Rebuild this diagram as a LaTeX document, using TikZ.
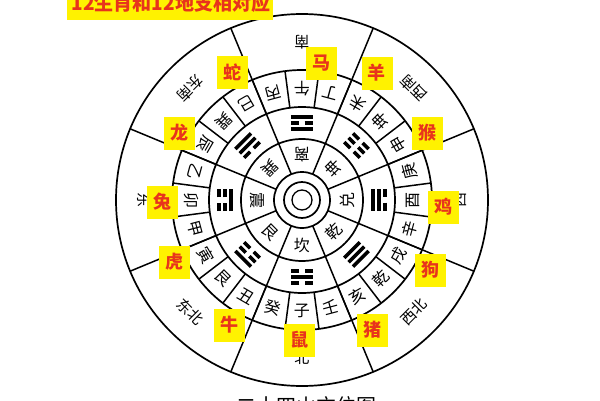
\documentclass[tikz,border=0pt]{standalone}
\usepackage{fontspec}
\newfontfamily\cjk{Noto Sans CJK SC}
\definecolor{zyellow}{HTML}{FFF200}
\definecolor{zred}{HTML}{E8341C}
\tikzset{
  ring/.style={line width=1.7pt},
  spoke/.style={line width=1.5pt},
  mtn/.style={font=\cjk\fontsize{16}{16}\selectfont, inner sep=0pt},
  gua/.style={font=\cjk\fontsize{16}{16}\selectfont, inner sep=0pt},
  dirlabel/.style={font=\cjk\fontsize{15}{15}\selectfont, inner sep=0pt},
  zodiac/.style={fill=zyellow, text=zred, font=\cjk\bfseries\fontsize{18}{18}\selectfont, minimum width=31pt, minimum height=33pt, inner sep=0pt},
  bar/.style={line width=3.6pt, line cap=butt},
}
\newcommand\yaoline[2]{\ifnum#1=1 \draw[bar] (-11,#2) -- (11,#2);\else \draw[bar] (-11,#2) -- (-2.6,#2); \draw[bar] (2.6,#2) -- (11,#2);\fi}
\begin{document}
\begin{tikzpicture}[x=1pt,y=1pt]
\useasboundingbox (-302,-200) rectangle (298,200);
\clip (-302,-200) rectangle (298,200);
\fill[white] (-302,-200) rectangle (298,200);
% rings
\foreach \r in {186,130,93,61,28,18} \draw[ring] (0,0) circle[radius=\r];
\draw[line width=1.3pt] (0,0) circle[radius=10];
% spokes
\foreach \a in {22.5,67.5,...,337.5} \draw[spoke] (\a:28) -- (\a:186);
\foreach \k in {0,...,23} \draw[spoke] ({7.5+15*\k}:93) -- ({7.5+15*\k}:130);
% 24 mountains
\foreach \ch [count=\i from 0] in {午,丁,未,坤,申,庚,酉,辛,戌,乾,亥,壬,子,癸,丑,艮,寅,甲,卯,乙,辰,巽,巳,丙} {
  \pgfmathsetmacro\th{90-15*\i}
  \node[mtn, rotate=\th+90] (m\i) at (\th:111) {\ch};
}
% trigram names
\foreach \ch [count=\i from 0] in {离,坤,兑,乾,坎,艮,震,巽} {
  \pgfmathsetmacro\th{90-45*\i}
  \node[gua, rotate=\th+90] (g\i) at (\th:45) {\ch};
}
% trigram symbols (bottom/middle/top; top outward)
\foreach \ya/\yb/\yc [count=\i from 0] in {1/0/1,0/0/0,1/1/0,1/1/1,0/1/0,0/0/1,1/0/0,0/1/1} {
  \pgfmathsetmacro\th{90-45*\i}
  \begin{scope}[shift={(\th:77)}, rotate=\th-90]
    \yaoline{\ya}{-6.2}
    \yaoline{\yb}{0}
    \yaoline{\yc}{6.2}
  \end{scope}
}
% directions
\foreach \d [count=\i from 0] in {南,西南,西,西北,北,东北,东,东南} {
  \pgfmathsetmacro\th{90-45*\i}
  \node[dirlabel, rotate=\th+90] (d\i) at (\th:158) {\d};
}
% zodiac boxes
\node[zodiac] (z1) at (20,137) {马};
\node[zodiac] (z2) at (75,127) {羊};
\node[zodiac] (z3) at (125,67) {猴};
\node[zodiac] (z4) at (141,-7) {鸡};
\node[zodiac] (z5) at (128,-70) {狗};
\node[zodiac] (z6) at (70,-130) {猪};
\node[zodiac] (z7) at (-2,-140) {鼠};
\node[zodiac] (z8) at (-72,-125) {牛};
\node[zodiac] (z9) at (-127,-62) {虎};
\node[zodiac] (z10) at (-139,-2) {兔};
\node[zodiac] (z11) at (-122,67) {龙};
\node[zodiac] (z12) at (-69,128) {蛇};
% title
\fill[zyellow] (-235,180) rectangle (-29,201);
\node[font=\cjk\bfseries\fontsize{19}{19}\selectfont, text=zred, inner sep=0pt] (title) at (-131,196.5) {12生肖和12地支相对应};
% caption (cut off at bottom)
\node[font=\cjk\fontsize{20}{20}\selectfont, inner sep=0pt] (cap) at (5,-206) {二十四山方位图};
\end{tikzpicture}
\end{document}
